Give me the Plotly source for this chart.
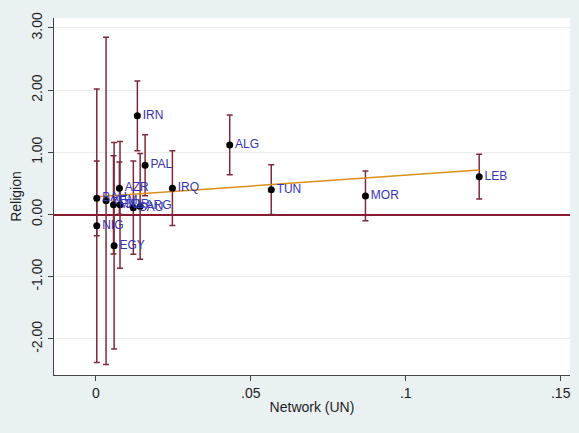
import numpy as np
import plotly.graph_objects as go

# country codes, network score (UN) and religion estimate with CI half-width
countries = ["NIG", "BAH", "YEM", "MAL", "EGY", "JOR", "AZR", "SAU", "ARG",
             "IRN", "PAL", "IRQ", "ALG", "TUN", "MOR", "LEB"]
network = [0.0003, 0.0003, 0.0033, 0.0057, 0.0059, 0.0078, 0.0076, 0.0121, 0.0143,
           0.0134, 0.0159, 0.0247, 0.0432, 0.0566, 0.0870, 0.1237]
religion = [-0.18, 0.26, 0.22, 0.156, -0.50, 0.156, 0.424, 0.11, 0.13,
            1.587, 0.794, 0.424, 1.12, 0.40, 0.30, 0.608]
ci_half = [2.20, 0.60, 2.63, 0.79, 1.66, 1.02, 0.42, 0.75, 0.85,
           0.56, 0.49, 0.60, 0.48, 0.40, 0.40, 0.36]

x_ticks = [0, 0.05, 0.1, 0.15]
x_ticktext = ["0", ".05", ".1", ".15"]
y_ticks = [-2, -1, 0, 1, 2, 3]
y_ticktext = ["-2.00", "-1.00", "0.00", "1.00", "2.00", "3.00"]

BG = "#eaf1f3"

# linear fit
slope, intercept = np.polyfit(network, religion, 1)
fit_x = np.array([min(network), max(network)])
fit_y = intercept + slope * fit_x

fig = go.Figure()

fig.add_trace(go.Scatter(
    x=network, y=religion, mode="markers",
    marker=dict(size=1, color="rgba(0,0,0,0)"),
    error_y=dict(type="data", array=ci_half, color="#7e2a3b", thickness=1.5, width=3),
    hoverinfo="skip", showlegend=False,
))

fig.add_trace(go.Scatter(
    x=fit_x, y=fit_y, mode="lines",
    line=dict(color="#dc8f1a", width=1.5),
    showlegend=False,
))

fig.add_trace(go.Scatter(
    x=network, y=religion, mode="markers+text",
    marker=dict(size=7, color="black"),
    text=countries, textposition="middle right",
    textfont=dict(color="#3434b4", size=12, family="Liberation Sans, Arial"),
    showlegend=False,
))

fig.update_layout(
    width=579, height=433,
    margin=dict(l=54, r=9, t=18, b=58),
    paper_bgcolor=BG,
    plot_bgcolor="white",
    font=dict(family="Liberation Sans, Arial", color="#1e1e1e", size=14),
    xaxis=dict(
        range=[-0.0135, 0.153], automargin=False,
        tickvals=x_ticks, ticktext=x_ticktext,
        showgrid=False, zeroline=False,
        showline=True, linecolor="#444444", linewidth=1,
        ticks="outside", ticklen=5, tickcolor="#444444",
        title=dict(text="Network (UN)", font=dict(size=14), standoff=2),
    ),
    yaxis=dict(
        range=[-2.58, 3.16], automargin=False,
        tickvals=y_ticks, ticktext=y_ticktext, tickangle=-90,
        showgrid=True, gridcolor="#ececec", gridwidth=1,
        zeroline=True, zerolinecolor="#8a1a30", zerolinewidth=1.5,
        showline=True, linecolor="#444444", linewidth=1,
        ticks="outside", ticklen=5, tickcolor="#444444",
        title=dict(text="Religion", font=dict(size=14), standoff=4),
    ),
)

# drop the page's default body margin so the figure sits at the top-left corner
fig.write_html("out.html", config={"displayModeBar": False}, post_script=(
    "document.body.style.margin='0';"
    "document.body.style.background='" + BG + "';"
))
